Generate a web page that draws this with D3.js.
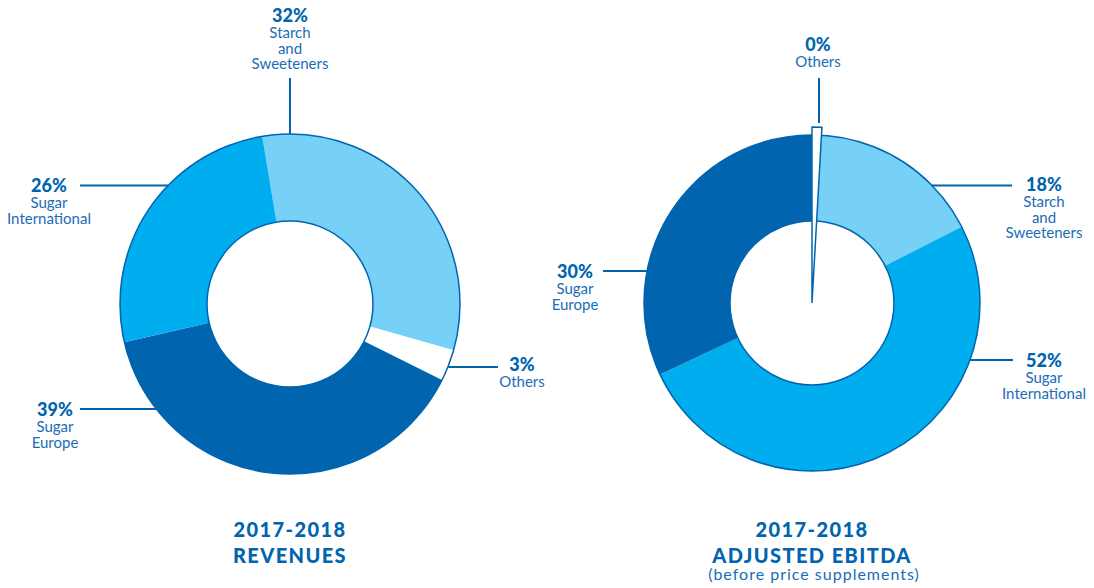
<!DOCTYPE html>
<html>
<head>
<meta charset="utf-8">
<script src="https://cdn.jsdelivr.net/npm/d3@7"></script>
<style>
  body { margin: 0; background: #fff; }
  text { font-family: Lato, "Open Sans", sans-serif; }
</style>
</head>
<body>
<div id="chart"></div>
<script>
// ---- data ----
const revCategories = ["Starch and Sweeteners", "Others", "Sugar Europe", "Sugar International"];
const revValues = [32, 3, 39, 26];
const revLabels = ["32%", "3%", "39%", "26%"];

const ebitdaCategories = ["Others", "Starch and Sweeteners", "Sugar International", "Sugar Europe"];
const ebitdaValues = [0.9, 16.6, 50.5, 32.0];
const ebitdaLabels = ["0%", "18%", "52%", "30%"];

const titles = [["2017-2018", "REVENUES"], ["2017-2018", "ADJUSTED EBITDA"]];
const subtitle = "(before price supplements)";

// ---- colours ----
const dark = "#0064af", mid = "#00adef", light = "#77d1f7", textBlue = "#1a6db6";
const colorOf = {
  "Starch and Sweeteners": light,
  "Others": "#ffffff",
  "Sugar Europe": dark,
  "Sugar International": mid
};

const width = 1094, height = 588;

const svg = d3.select("#chart")
  .append("svg")
  .attr("width", width)
  .attr("height", height);

// label layout: side of the leader line and where the text block sits
const revLayout = {
  "Starch and Sweeteners": { dir: "v", lineEnd: 78, tx: 290, ty: 22, lines: ["Starch", "and", "Sweeteners"] },
  "Others": { dir: "h", y: 367, lineEnd: 498, tx: 522, ty: 371, lines: ["Others"] },
  "Sugar Europe": { dir: "h", y: 409, lineEnd: 80, tx: 55, ty: 416, lines: ["Sugar", "Europe"] },
  "Sugar International": { dir: "h", y: 185.5, lineEnd: 80, tx: 49, ty: 192, lines: ["Sugar", "International"] }
};
const ebitdaLayout = {
  "Others": { dir: "v", lineEnd: 78, lineStart: 123, lx: 819, tx: 818, ty: 51, lines: ["Others"] },
  "Starch and Sweeteners": { dir: "h", y: 185.5, lineEnd: 1012, tx: 1044, ty: 191, lines: ["Starch", "and", "Sweeteners"] },
  "Sugar International": { dir: "h", y: 360, lineEnd: 1013, tx: 1044, ty: 367, lines: ["Sugar", "International"] },
  "Sugar Europe": { dir: "h", y: 271, lineEnd: 603, tx: 575, ty: 278, lines: ["Sugar", "Europe"] }
};

function donut(cfg) {
  const g = svg.append("g").attr("transform", `translate(${cfg.cx},${cfg.cy})`);

  const pie = d3.pie().sort(null)
    .startAngle(cfg.start)
    .endAngle(cfg.start + 2 * Math.PI)
    .value(d => d.value);

  const data = cfg.categories.map((c, i) => ({ name: c, value: cfg.values[i], label: cfg.labels[i] }));
  const arcs = pie(data);

  const arc = d3.arc().innerRadius(cfg.inner).outerRadius(cfg.outer);

  // slices (no borders between them)
  g.selectAll("path.slice")
    .data(arcs.filter(d => !(cfg.sliver && d.data.name === cfg.sliver)))
    .join("path")
    .attr("class", "slice")
    .attr("d", arc)
    .attr("fill", d => colorOf[d.data.name]);

  // outline circles
  g.append("circle").attr("r", cfg.outer).attr("fill", "none").attr("stroke", dark).attr("stroke-width", 1.5);
  g.append("circle").attr("r", cfg.inner).attr("fill", "none").attr("stroke", dark).attr("stroke-width", 1.5);

  // tiny slice drawn as a wedge from the centre, slightly outside the ring
  if (cfg.sliver) {
    const s = arcs.find(d => d.data.name === cfg.sliver);
    g.append("path")
      .attr("d", d3.arc().innerRadius(0).outerRadius(cfg.outer + 8)(s))
      .attr("fill", "#fff")
      .attr("stroke", dark)
      .attr("stroke-width", 1.5)
      .attr("stroke-linejoin", "miter");
  }

  // leader lines + labels
  arcs.forEach(d => {
    const L = cfg.layout[d.data.name];
    let x1, y1, x2, y2;
    if (L.dir === "v") {
      x1 = x2 = (L.lx !== undefined ? L.lx : cfg.cx) - cfg.cx;
      y1 = L.lineStart !== undefined ? L.lineStart - cfg.cy : -Math.sqrt(cfg.outer * cfg.outer - x1 * x1);
      y2 = L.lineEnd - cfg.cy;
    } else {
      y1 = y2 = L.y - cfg.cy;
      const side = L.lineEnd > cfg.cx ? 1 : -1;
      x1 = side * Math.sqrt(cfg.outer * cfg.outer - y1 * y1);
      x2 = L.lineEnd - cfg.cx;
    }
    g.append("line")
      .attr("x1", x1).attr("y1", y1).attr("x2", x2).attr("y2", y2)
      .attr("stroke", dark).attr("stroke-width", 2);

    // percentage
    svg.append("text")
      .attr("x", L.tx)
      .attr("y", L.ty)
      .attr("text-anchor", "middle")
      .attr("font-weight", 900)
      .attr("font-size", 18)
      .attr("fill", dark)
      .text(d.data.label);
    // category name, one line each
    L.lines.forEach((line, i) => {
      svg.append("text")
        .attr("x", L.tx)
        .attr("y", L.ty + 15.8 * (i + 1))
        .attr("text-anchor", "middle")
        .attr("font-size", 15)
        .attr("fill", textBlue)
        .text(line);
    });
  });

  // titles
  cfg.title.forEach((line, i) => {
    svg.append("text")
      .attr("x", cfg.cx)
      .attr("y", 537 + i * 26)
      .attr("text-anchor", "middle")
      .attr("fill", dark)
      .attr("font-weight", 900)
      .attr("font-size", 20)
      .attr("letter-spacing", 1.4)
      .text(line);
  });
  if (cfg.subtitle) {
    svg.append("text")
      .attr("x", cfg.cx + 2)
      .attr("y", 580)
      .attr("text-anchor", "middle")
      .attr("fill", textBlue)
      .attr("font-size", 16)
      .attr("letter-spacing", 1)
      .text(cfg.subtitle);
  }
}

donut({
  cx: 290, cy: 304, outer: 170, inner: 83,
  start: -9.4 * Math.PI / 180,
  categories: revCategories, values: revValues, labels: revLabels,
  layout: revLayout, title: titles[0]
});

donut({
  cx: 812, cy: 303, outer: 168, inner: 82,
  start: 0,
  categories: ebitdaCategories, values: ebitdaValues, labels: ebitdaLabels,
  layout: ebitdaLayout, title: titles[1], subtitle: subtitle,
  sliver: "Others"
});
</script>
</body>
</html>
